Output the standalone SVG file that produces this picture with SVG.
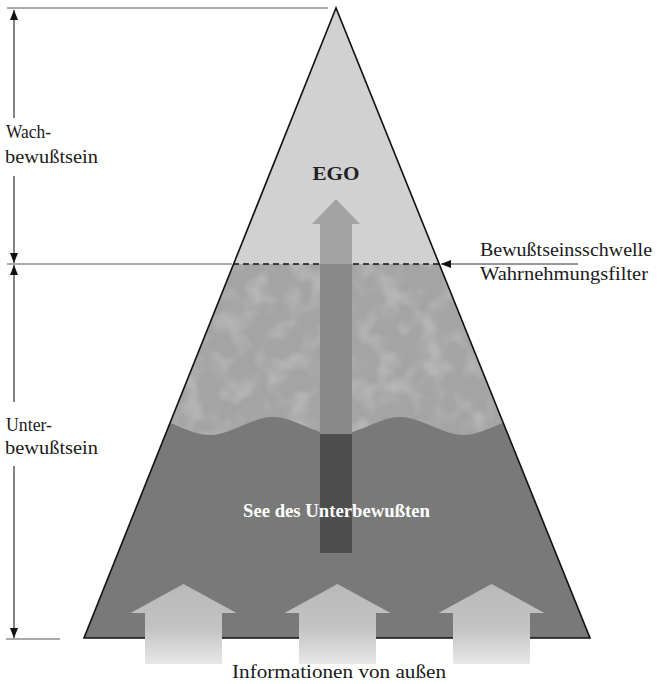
<svg xmlns="http://www.w3.org/2000/svg" xmlns:xlink="http://www.w3.org/1999/xlink" width="657" height="684" viewBox="0 0 657 684">
<style>
.lbl{font-family:"Liberation Serif","Times New Roman",serif;font-size:19px;fill:#1a1a1a}
.dim{stroke:#333;stroke-width:1.2;fill:none}
.hl{stroke:#555;stroke-width:1.2;fill:none}
</style>
<defs>
<marker id="ah" markerUnits="userSpaceOnUse" markerWidth="10" markerHeight="8" refX="10" refY="4" orient="auto-start-reverse">
<path d="M0,0 L10,4 L0,8 z" fill="#111"/>
</marker>
<clipPath id="tri"><path d="M336,8 L84,638 L590,638 Z"/></clipPath>
<filter id="blot" x="0" y="0" width="100%" height="100%">
<feTurbulence type="fractalNoise" baseFrequency="0.045" numOctaves="2" seed="7"/>
<feColorMatrix type="matrix" values="0 0 0 0 1  0 0 0 0 1  0 0 0 0 1  3 0 0 0 -1.3"/>
</filter>
<linearGradient id="egoFill" gradientUnits="userSpaceOnUse" x1="0" y1="199" x2="0" y2="553">
<stop offset="0" stop-color="#a3a3a3"/>
<stop offset="0.1836" stop-color="#a3a3a3"/>
<stop offset="0.1836" stop-color="#888888"/>
<stop offset="0.664" stop-color="#888888"/>
<stop offset="0.664" stop-color="#4e4e4e"/>
<stop offset="1" stop-color="#4e4e4e"/>
</linearGradient>
<linearGradient id="inFill" x1="0" y1="0" x2="0" y2="1">
<stop offset="0" stop-color="#b9b9b9"/>
<stop offset="0.55" stop-color="#c3c3c3"/>
<stop offset="1" stop-color="#e8e8e8"/>
</linearGradient>
<path id="bigArrow" d="M0,584 L53,613 L38.5,613 L38.5,664 L-38.5,664 L-38.5,613 L-53,613 Z"/>
</defs>
<rect width="657" height="684" fill="#fff"/>

<g id="pyramid">
<g clip-path="url(#tri)">
<rect x="0" y="0" width="657" height="265" fill="#d1d1d1"/>
<rect x="0" y="264" width="657" height="190" fill="#a4a4a4"/>
<rect x="0" y="264" width="657" height="190" filter="url(#blot)" opacity="0.2"/>
<path d="M60,417 L146,417 C167,417 188.5,435 209.5,435 C230.5,435 252,417 273,417 C294,417 315.5,435 336.5,435 C357.5,435 379,417 400,417 C421,417 442.5,435 463.5,435 C484.5,435 506,417 527,417 L600,417 L600,645 L60,645 Z" fill="#797979"/>
</g>
<line x1="233" y1="264" x2="439" y2="264" stroke="#111" stroke-width="1.3" stroke-dasharray="6,4"/>
<path d="M336,8 L84,638 L590,638 Z" fill="none" stroke="#111" stroke-width="1.6" stroke-linejoin="miter"/>
</g>

<g id="ego-arrow">
<path d="M336,199 L360,224 L352,224 L352,553 L320,553 L320,224 L312,224 Z" fill="url(#egoFill)"/>
</g>

<g id="ego">
<text x="336" y="180" text-anchor="middle" font-family="'Liberation Serif', serif" font-size="19" font-weight="bold" fill="#222" textLength="47" lengthAdjust="spacingAndGlyphs">EGO</text>
</g>

<g id="sea">
<text x="336.5" y="517" text-anchor="middle" font-family="'Liberation Serif', serif" font-size="18.5" font-weight="bold" fill="#fff" textLength="187" lengthAdjust="spacingAndGlyphs">See des Unterbewußten</text>
</g>

<g id="input-arrows">
<use xlink:href="#bigArrow" x="183.5" fill="url(#inFill)"/>
<use xlink:href="#bigArrow" x="337.5" fill="url(#inFill)"/>
<use xlink:href="#bigArrow" x="491.5" fill="url(#inFill)"/>
</g>

<g id="input-label">
<text class="lbl" x="339" y="678" text-anchor="middle" textLength="214" lengthAdjust="spacingAndGlyphs">Informationen von außen</text>
</g>

<g id="wach-label">
<text class="lbl" x="6" y="138" textLength="45" lengthAdjust="spacingAndGlyphs">Wach-</text>
<text class="lbl" x="5" y="163" textLength="93" lengthAdjust="spacingAndGlyphs">bewußtsein</text>
</g>

<g id="unter-label">
<text class="lbl" x="6" y="431" textLength="46" lengthAdjust="spacingAndGlyphs">Unter-</text>
<text class="lbl" x="5" y="454" textLength="93" lengthAdjust="spacingAndGlyphs">bewußtsein</text>
</g>

<g id="schwelle-label">
<text class="lbl" x="480" y="256" textLength="172" lengthAdjust="spacingAndGlyphs">Bewußtseinsschwelle</text>
<text class="lbl" x="480" y="280" textLength="168" lengthAdjust="spacingAndGlyphs">Wahrnehmungsfilter</text>
</g>

<g id="connectors">
<line class="hl" x1="7" y1="8" x2="328" y2="8"/>
<line class="hl" x1="7" y1="264" x2="232" y2="264"/>
<line class="hl" x1="6" y1="639" x2="60" y2="639"/>
<line class="dim" x1="14" y1="118" x2="14" y2="10" marker-end="url(#ah)"/>
<line class="dim" x1="14" y1="176" x2="14" y2="263" marker-end="url(#ah)"/>
<line class="dim" x1="14" y1="402" x2="14" y2="265" marker-end="url(#ah)"/>
<line class="dim" x1="14" y1="466" x2="14" y2="638" marker-end="url(#ah)"/>
<line class="dim" x1="578" y1="264" x2="441" y2="264" marker-end="url(#ah)"/>
</g>
</svg>
